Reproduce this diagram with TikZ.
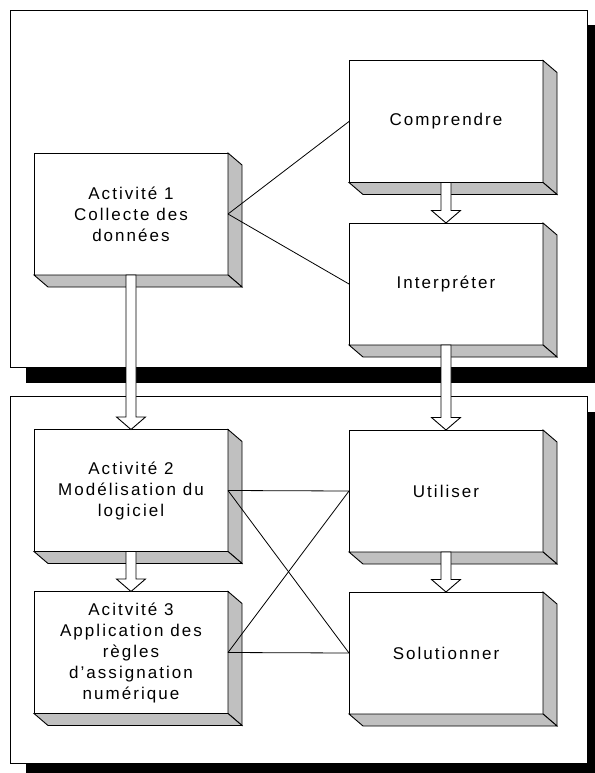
\documentclass[tikz,border=0pt]{standalone}
\usepackage{fontspec}
\setmainfont{Liberation Sans}[LetterSpace=12]
\usetikzlibrary{calc}
\definecolor{sidegray}{RGB}{192,192,192}
\tikzset{
  stage/.style={draw, fill=white, line width=0.9pt, minimum width=194pt,
    minimum height=122pt, inner sep=0pt, outer sep=0pt, align=center,
    font=\fontsize{17}{21}\selectfont},
  face/.style={draw, fill=sidegray, line width=0.9pt, line join=miter},
  link/.style={draw, line width=0.8pt},
  panel/.style={draw, fill=white, line width=0.9pt},
  panelshadow/.style={fill=black},
  hollow/.style={draw, fill=white, line width=0.9pt, line join=miter},
}
% right and bottom faces of an extruded box
\newcommand\extrude[1]{%
  \path[face] (#1.north east) -- ++(14,12) -- ($(#1.south east)+(14,12)$)
    -- (#1.south east) -- cycle;
  \path[face] (#1.south west) -- ++(14,12) -- ($(#1.south east)+(14,12)$)
    -- (#1.south east) -- cycle;
}
% hollow block arrow from the bottom of one box to the top of another
\newcommand\hollowarrow[2]{%
  \path[hollow] ($(#1.south)+(-5,0)$) -- ($(#2.north)+(-5,-12.5)$)
    -- ($(#2.north)+(-14.5,-12.5)$) -- (#2.north)
    -- ($(#2.north)+(14.5,-12.5)$) -- ($(#2.north)+(5,-12.5)$)
    -- ($(#1.south)+(5,0)$) -- cycle;
}
\begin{document}
\begin{tikzpicture}[x=1pt,y=-1pt]
\useasboundingbox (0,0) rectangle (594,773);

% the two panels with their drop shadows
\fill[panelshadow] (25.5,25.5) rectangle (602,383);
\path[panel] (10,10) rectangle (587,367);
\fill[panelshadow] (25.5,411.5) rectangle (602,780);
\path[panel] (10,396) rectangle (587,763);

% boxes
\node[stage] (a1) at (131,214) {Activité 1\\Collecte des\\données};
\node[stage] (c)  at (446,121.5) {Comprendre};
\node[stage] (i)  at (446,284) {Interpréter};
\node[stage] (a2) at (131,490.5) {Activité 2\\Modélisation du\\logiciel};
\node[stage] (a3) at (131,652.5) {Acitvité 3\\Application des\\règles\\d’assignation\\numérique};
\node[stage] (u)  at (446,491) {Utiliser};
\node[stage] (s)  at (446,653) {Solutionner};

\foreach \n in {a1,c,i,a2,a3,u,s} {\extrude{\n}}

% links
\path[link] (a1.east) -- (c.west);
\path[link] (a1.east) -- (i.west);
\path[link] (a2.east) -- (u.west);
\path[link] (a2.east) -- (s.west);
\path[link] (a3.east) -- (u.west);
\path[link] (a3.east) -- (s.west);

% flow arrows
\hollowarrow{c}{i}
\hollowarrow{a1}{a2}
\hollowarrow{i}{u}
\hollowarrow{a2}{a3}
\hollowarrow{u}{s}
\end{tikzpicture}
\end{document}
